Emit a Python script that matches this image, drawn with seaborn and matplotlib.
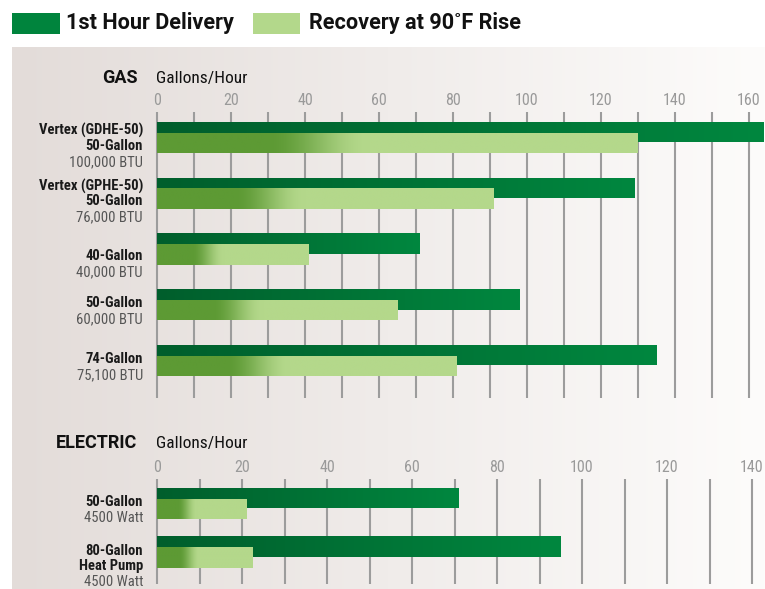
import numpy as np
import pandas as pd
import matplotlib
matplotlib.use("Agg")
import matplotlib.pyplot as plt
import seaborn as sns
from matplotlib import font_manager
from matplotlib.colors import to_rgb
from matplotlib.patches import Rectangle
from matplotlib.ticker import MultipleLocator

# ---------------- data ----------------
gas_names = ["Vertex (GDHE-50)\n50-Gallon", "Vertex (GPHE-50)\n50-Gallon",
             "40-Gallon", "50-Gallon", "74-Gallon"]
gas_ratings = ["100,000 BTU", "76,000 BTU", "40,000 BTU", "60,000 BTU", "75,100 BTU"]
gas_first_hour = [164, 129, 71, 98, 135]
gas_recovery = [130, 91, 41, 65, 81]

elec_names = ["50-Gallon", "80-Gallon\nHeat Pump"]
elec_ratings = ["4500 Watt", "4500 Watt"]
elec_first_hour = [71, 95]
elec_recovery = [21, 22.5]

series_labels = ["1st Hour Delivery", "Recovery at 90\u02daF Rise"]
section_titles = ["GAS", "ELECTRIC"]
unit_label = "Gallons/Hour"

# ---------------- style ----------------
sns.set_style("white")
avail = {f.name for f in font_manager.fontManager.ttflist}
FONT = "DejaVu Sans"
for cand in ["Roboto Condensed", "Liberation Sans Narrow", "Open Sans Condensed",
             "Liberation Sans", "Noto Sans"]:
    if cand in avail:
        FONT = cand
        break
HEAVY = "Roboto" if "Roboto" in avail else FONT
plt.rcParams["font.family"] = [FONT, "DejaVu Sans"]

W, H = 765, 589
DPI = 100
fig = plt.figure(figsize=(W / DPI, H / DPI), dpi=DPI)

DARK0 = np.array(to_rgb("#005e2c"))
DARK1 = np.array(to_rgb("#00873f"))
MED = np.array(to_rgb("#5d9a34"))
LIGHT = np.array(to_rgb("#b4d88b"))
GRID = "#9c9c9c"
TICK = "#9a9a9a"


def fx(px):
    return px / W


def fy(py):
    return 1 - py / H


# background panel
bg = fig.add_axes([fx(12), 0, 1 - fx(12), 1 - 47 / H], zorder=-10)
t = np.linspace(0, 1, 256)
c0 = np.array([227, 220, 217]) / 255
c1 = np.array([253, 252, 251]) / 255
grad = (c0[None, :] * (1 - t[:, None]) + c1[None, :] * t[:, None])[None, :, :]
bg.imshow(grad, aspect="auto", extent=(0, 1, 0, 1), interpolation="bilinear")
bg.set_axis_off()

# legend
fig.add_artist(Rectangle((fx(12), fy(34)), fx(48), 21.5 / H, transform=fig.transFigure,
                         color="#00843d", lw=0))
fig.add_artist(Rectangle((fx(253), fy(34)), fx(47), 21.5 / H, transform=fig.transFigure,
                         color="#b3d88b", lw=0))
fig.text(fx(66), fy(29.5), series_labels[0], fontsize=15.6, fontweight="bold",
         family=[HEAVY, "DejaVu Sans"], va="baseline", ha="left", color="#111111")
fig.text(fx(309), fy(29.5), series_labels[1], fontsize=15.6, fontweight="bold",
         family=[HEAVY, "DejaVu Sans"], va="baseline", ha="left", color="#111111")


def gradient_bar(ax, patch, kind, z):
    x0, y0 = patch.get_xy()
    w, h = patch.get_width(), patch.get_height()
    tt = np.linspace(0, 1, 256)
    if kind == "dark":
        cols = DARK0[None, :] * (1 - tt[:, None]) + DARK1[None, :] * tt[:, None]
    else:
        f = np.clip((tt - 0.23) / 0.21, 0, 1)
        f = f * f * (3 - 2 * f)
        cols = MED[None, :] * (1 - f[:, None]) + LIGHT[None, :] * f[:, None]
    im = ax.imshow(cols[None, :, :], extent=(x0, x0 + w, y0, y0 + h), aspect="auto",
                   interpolation="bilinear", zorder=z)
    im.set_clip_path(patch)


def panel(top_px, bot_px, c0_px, spacing_px, first, rec, names, ratings,
          xscale, title, title_base, label_offsets):
    left_px = 150
    ax = fig.add_axes([fx(left_px), fy(bot_px), fx(W - left_px), (bot_px - top_px) / H])
    ax.set_facecolor("none")
    n = len(first)
    cats = [str(i) for i in range(n)]
    df = pd.DataFrame({"cat": cats, "first": first, "rec": rec})
    bar_h = 20.5 / spacing_px
    off = 5.4 / spacing_px
    sns.barplot(data=df, y="cat", x="first", orient="h", color=to_rgb("#00843d"),
                width=bar_h, errorbar=None, ax=ax, zorder=3, linewidth=0, saturation=1)
    dark = list(ax.patches)
    sns.barplot(data=df, y="cat", x="rec", orient="h", color=to_rgb("#b3d88b"),
                width=bar_h, errorbar=None, ax=ax, zorder=5, linewidth=0, saturation=1)
    light = [p for p in ax.patches if p not in dark]
    for p in dark:
        p.set_y(p.get_y() - off)
    for p in light:
        p.set_y(p.get_y() + off)
    for p in dark:
        gradient_bar(ax, p, "dark", 4)
    for p in light:
        gradient_bar(ax, p, "light", 6)

    x_lo = -(157 - left_px) / xscale
    x_hi = (W - 157) / xscale
    ax.set_xlim(x_lo, x_hi)
    y_top = (top_px - c0_px) / spacing_px
    y_bot = (bot_px - c0_px) / spacing_px
    ax.set_ylim(y_bot, y_top)

    ax.xaxis.set_major_locator(MultipleLocator(20))
    ax.xaxis.set_minor_locator(MultipleLocator(10))
    ax.grid(axis="x", which="both", color=GRID, lw=1.5, zorder=1)
    ax.grid(axis="y", visible=False)
    ax.set_axisbelow(True)
    ax.xaxis.tick_top()
    ax.tick_params(axis="x", which="both", length=0, pad=3, labelsize=11.5,
                   labelcolor=TICK)
    ax.set_xticks([v for v in range(0, int(x_hi) + 1, 20)])
    ax.set_yticks([])
    ax.set_xlabel("")
    ax.set_ylabel("")
    for s in ax.spines.values():
        s.set_visible(False)

    # titles
    fig.text(fx(137.5), fy(title_base), title, fontsize=13, fontweight="bold",
             family=[HEAVY, "DejaVu Sans"], ha="right", va="baseline", color="#111111")
    fig.text(fx(156), fy(title_base), unit_label, fontsize=12.5,
             ha="left", va="baseline", color="#111111")

    # category labels
    for i in range(n):
        base = c0_px + i * spacing_px + label_offsets[i]
        lines = names[i].split("\n")
        y = base
        for ln in lines:
            fig.text(fx(143), fy(y), ln, fontsize=10.5, fontweight="bold",
                     ha="right", va="baseline", color="#1a1a1a")
            y += 15
        y += 1.5
        fig.text(fx(143), fy(y), ratings[i], fontsize=10.5,
                 ha="right", va="baseline", color="#555555")
    return ax


panel(112, 398, 137.5, 55.75, gas_first_hour, gas_recovery, gas_names, gas_ratings,
      3.7, section_titles[0], 83, [-3, -3, 11, 2, 2.5])
panel(479, 584, 503.5, 48.5, elec_first_hour, elec_recovery, elec_names, elec_ratings,
      4.25, section_titles[1], 448, [2, 3])

fig.savefig("out.png", dpi=DPI)
